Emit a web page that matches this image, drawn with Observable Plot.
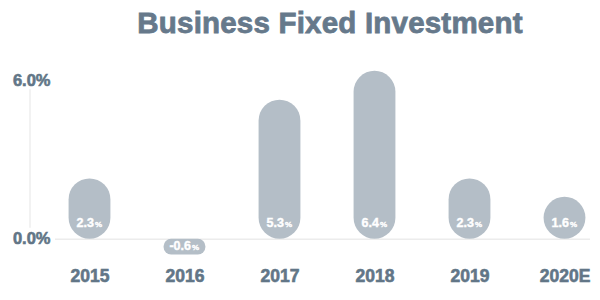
<!DOCTYPE html>
<html>
<head>
<meta charset="utf-8">
<script src="https://cdn.jsdelivr.net/npm/d3@7"></script>
<script src="https://cdn.jsdelivr.net/npm/@observablehq/plot@0.6"></script>
<style>
  html, body { margin: 0; padding: 0; background: #fff; }
  body { width: 600px; height: 300px; overflow: hidden; font-family: "Liberation Sans", Arial, sans-serif; }
  #title {
    height: 42px; padding-top: 8px; padding-left: 60px;
    text-align: center; font-size: 29.5px; line-height: 1; font-weight: bold;
    color: #66798b; -webkit-text-stroke: 0.8px #66798b; letter-spacing: 0.2px;
  }
  #chart svg { display: block; }
  #chart svg text { font-weight: bold; }
  #chart svg g[aria-label="x-axis tick label"] text,
  #chart svg g[aria-label="y-axis tick label"] text { stroke: #627687; stroke-width: 0.6px; }
  #chart svg g.vlabel text { stroke: #ffffff; stroke-width: 0.4px; }
</style>
</head>
<body>
<div id="title">Business Fixed Investment</div>
<div id="chart"></div>
<script>
const years = ["2015", "2016", "2017", "2018", "2019", "2020E"];
const values = [2.3, -0.6, 5.3, 6.4, 2.3, 1.6];
const yTicks = [0, 6];

const data = years.map((year, i) => ({year, value: values[i]}));
const pos = data.filter(d => d.value >= 0);
const neg = data.filter(d => d.value < 0);

const textColor = "#627687";
const barColor = "#b4bec7";
const inset = (571 / 6 - 42) / 2;

const axisLine = (index, scales) => {
  const line = d3.create("svg:line")
    .attr("x1", 30).attr("x2", 30)
    .attr("y1", scales.y(6) + 8).attr("y2", scales.y(0) - 11)
    .attr("stroke", "#eeeeee").attr("stroke-width", 1.5);
  return line.node();
};

const lbl = {fill: "white", fontWeight: "bold", className: "vlabel"};

const chart = Plot.plot({
  width: 600,
  height: 250,
  marginTop: 5,
  marginBottom: 35,
  marginLeft: 55,
  marginRight: 10,
  style: {fontFamily: "'Liberation Sans', Arial, sans-serif", background: "#fff"},
  x: {type: "band", domain: years, range: [41, 612], padding: 0, label: null},
  y: {domain: [-1, 7], label: null},
  marks: [
    Plot.ruleY([0], {stroke: "#ececec", strokeWidth: 1.5}),
    axisLine,
    Plot.barY(pos, {x: "year", y: "value", fill: barColor, rx: 21, insetLeft: inset, insetRight: inset}),
    Plot.barY(neg, {x: "year", y: "value", fill: barColor, rx: 7.5, insetLeft: inset, insetRight: inset}),
    Plot.text(pos, {...lbl, x: "year", y: 0, text: d => d.value.toFixed(1), fontSize: 12.5, textAnchor: "end", dx: 4, dy: -16}),
    Plot.text(pos, {...lbl, x: "year", y: 0, text: () => "%", fontSize: 8, textAnchor: "start", dx: 5, dy: -15}),
    Plot.text(neg, {...lbl, x: "year", y: 0, text: d => d.value.toFixed(1), fontSize: 12.5, textAnchor: "end", dx: 6, dy: 6.5}),
    Plot.text(neg, {...lbl, x: "year", y: 0, text: () => "%", fontSize: 8, textAnchor: "start", dx: 7, dy: 7.7}),
    Plot.axisX({tickSize: 0, tickPadding: 4, fontSize: 17.5, fontWeight: "bold", color: textColor, label: null}),
    Plot.axisY({ticks: yTicks, tickFormat: d => d.toFixed(1) + "%", tickSize: 0, tickPadding: 5, fontSize: 16.5, fontWeight: "bold", color: textColor, label: null, dy: -1})
  ]
});
document.getElementById("chart").appendChild(chart);
</script>
</body>
</html>
